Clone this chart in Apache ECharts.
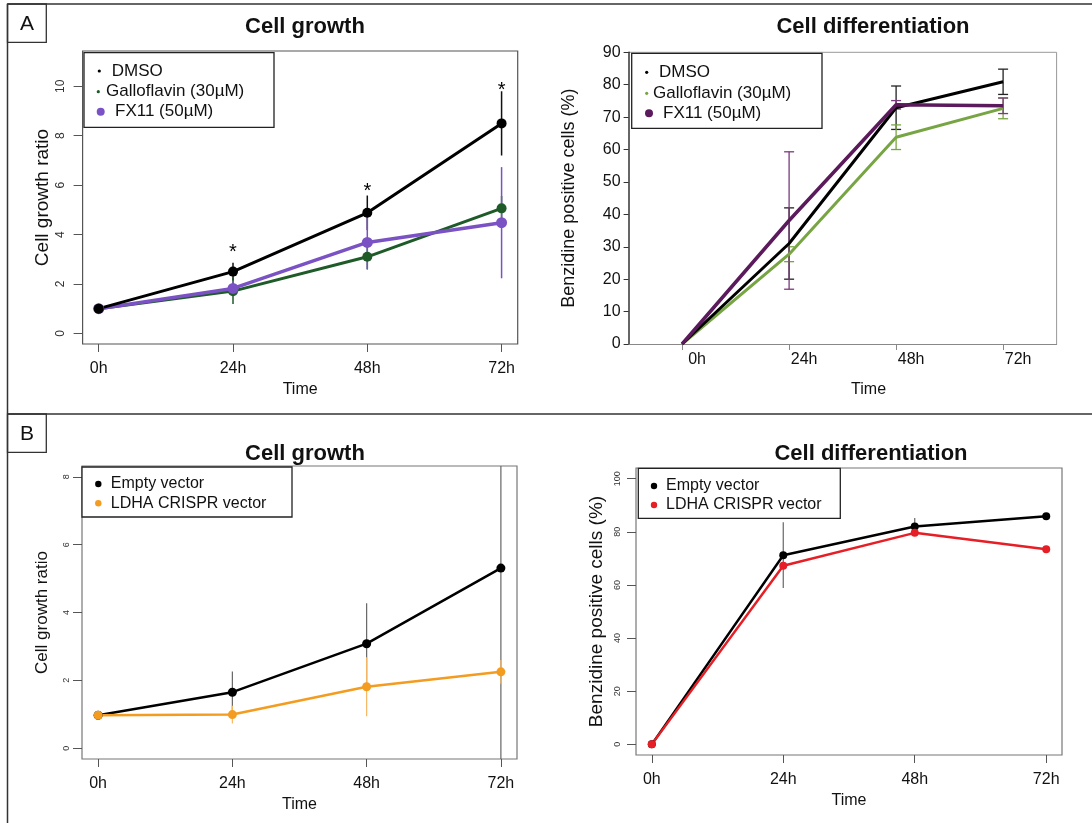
<!DOCTYPE html>
<html><head><meta charset="utf-8">
<script src="https://cdn.jsdelivr.net/npm/echarts@6/dist/echarts.min.js"></script>
<style>html,body{margin:0;padding:0;background:#fff}#c{width:1092px;height:823px}</style>
</head><body><div id="c"></div>
<script>
// ---------- data ----------
const timeHours = [0, 24, 48, 72];
const timeLabels = ['0h', '24h', '48h', '72h'];
const timeIndex = [0, 1, 2, 3];

// Panel A - Cell growth
const aNames = ['DMSO', 'Galloflavin (30µM)', 'FX11 (50µM)'];
const aGrowthDMSO = [1.0, 2.5, 4.88, 8.5];
const aGrowthDMSOErr = [0, 0.36, 0.7, 1.3];
const aGrowthGallo = [1.0, 1.71, 3.1, 5.06];
const aGrowthGalloErr = [0, 0.52, 0.5, 0.5];
const aGrowthFX11 = [1.0, 1.82, 3.68, 4.48];
const aGrowthFX11Err = [0, 0.3, 1.1, 2.25];
const aGrowthStars = [null, 3.45, 5.9, 10.0];
const aGrowthYTicks = [0, 2, 4, 6, 8, 10];

// Panel A - Cell differentiation
const aDiffDMSO = [0, 31, 72.9, 80.9];
const aDiffDMSOErr = [0, 11, 6.7, 3.9];
const aDiffGallo = [0, 27.7, 63.8, 72.7];
const aDiffGalloErr = [0, 2.3, 3.8, 3.2];
const aDiffFX11 = [0, 38.1, 73.8, 73.5];
const aDiffFX11Err = [0, 21.2, 1.3, 2.4];

// Panel B - Cell growth
const bNames = ['Empty vector', 'LDHA CRISPR vector'];
const bGrowthEmpty = [0.97, 1.65, 3.08, 5.31];
const bGrowthEmptyErr = [0, 0.61, 1.19, 5.8];
const bGrowthLDHA = [0.97, 0.99, 1.81, 2.25];
const bGrowthLDHAErr = [0, 0.26, 0.87, 0.35];
const bGrowthYTicks = [0, 2, 4, 6, 8];

// Panel B - Cell differentiation
const bDiffEmpty = [0, 71.2, 82.0, 85.8];
const bDiffEmptyErr = [0, 12.4, 3.2, 0];
const bDiffLDHA = [0, 67.2, 79.6, 73.4];
const bDiffYTicks = [0, 20, 40, 60, 80, 100];

// ---------- helpers ----------
const FONT = '"Liberation Sans", Arial, Helvetica, sans-serif';

function errorBars(xi, xs, vals, errs, color, width, cap, yMin, yMax) {
  const data = [];
  vals.forEach((v, i) => { if (errs[i] > 0) data.push([xs[i], v - errs[i], v + errs[i]]); });
  return {
    type: 'custom', xAxisIndex: xi, yAxisIndex: xi, z: 1, silent: true,
    data: data, encode: { x: 0, y: [1, 2] },
    renderItem: function (params, api) {
      let lo = api.value(1), hi = api.value(2);
      if (yMin != null) lo = Math.max(lo, yMin);
      if (yMax != null) hi = Math.min(hi, yMax);
      const x = api.value(0);
      const p1 = api.coord([x, lo]), p2 = api.coord([x, hi]);
      const ch = [{ type: 'line', shape: { x1: p1[0], y1: p1[1], x2: p2[0], y2: p2[1] }, style: { stroke: color, lineWidth: width } }];
      if (cap) {
        ch.push({ type: 'line', shape: { x1: p1[0] - cap, y1: p1[1], x2: p1[0] + cap, y2: p1[1] }, style: { stroke: color, lineWidth: width } });
        ch.push({ type: 'line', shape: { x1: p2[0] - cap, y1: p2[1], x2: p2[0] + cap, y2: p2[1] }, style: { stroke: color, lineWidth: width } });
      }
      return { type: 'group', children: ch };
    }
  };
}

function lineSeries(xi, name, xs, vals, color, width, symSize) {
  return {
    type: 'line', name: name, xAxisIndex: xi, yAxisIndex: xi, z: 3,
    data: vals.map((v, i) => [xs[i], v]),
    symbol: symSize ? 'circle' : 'none', symbolSize: symSize || 0, showSymbol: !!symSize,
    itemStyle: { color: color }, lineStyle: { color: color, width: width },
    animation: false
  };
}

function rXAxis(gi) {
  return {
    gridIndex: gi, type: 'value', min: -2.88, max: 74.88,
    axisLine: { show: false, onZero: false }, splitLine: { show: false },
    axisTick: { show: true, length: 8, customValues: timeHours, lineStyle: { color: '#555' } },
    axisLabel: { customValues: timeHours, formatter: v => timeLabels[timeHours.indexOf(v)], fontSize: 16, color: '#111', fontFamily: FONT, margin: 17 },
    name: 'Time', nameLocation: 'middle', nameGap: 38,
    nameTextStyle: { fontSize: 16, color: '#111', fontFamily: FONT }
  };
}

function rYAxis(gi, min, max, ticks, labelSize, margin, titleSize, nameGap) {
  return {
    gridIndex: gi, type: 'value', min: min, max: max,
    axisLine: { show: false, onZero: false }, splitLine: { show: false },
    axisTick: { show: true, length: 9, customValues: ticks, lineStyle: { color: '#555' } },
    axisLabel: { customValues: ticks, rotate: 90, fontSize: labelSize, color: '#333', fontFamily: FONT, margin: margin },
    name: null, nameLocation: 'middle', nameGap: nameGap, nameRotate: 90,
    nameTextStyle: { fontSize: titleSize, color: '#111', fontFamily: FONT }
  };
}

function legendBox(x, y, w, h, items, fontSize) {
  const els = [{ type: 'rect', shape: { x: x, y: y, width: w, height: h }, style: { fill: '#fff', stroke: '#222', lineWidth: 1.3 }, z: 50 }];
  items.forEach(it => {
    els.push({ type: 'circle', shape: { cx: it.dx, cy: it.y, r: it.r }, style: { fill: it.color }, z: 51 });
    els.push({ type: 'text', x: it.tx, y: it.y, style: { text: it.name, fill: '#111', font: fontSize + 'px ' + FONT, verticalAlign: 'middle', align: 'left' }, z: 51 });
  });
  return els;
}

// ---------- colors ----------
const cBlack = '#000000';
const cGreenDark = '#1e5b28';
const cPurple = '#7a52c4';
const cOlive = '#78a543';
const cPlum = '#5b1a5b';
const cOrange = '#f39c1f';
const cRed = '#e61e25';

// ---------- chart ----------
const chart = echarts.init(document.getElementById('c'), null, { renderer: 'canvas' });

const yA0 = rYAxis(0, -0.43, 11.43, aGrowthYTicks, 12, 16, 19, 30); yA0.name = 'Cell growth ratio';
const yB0 = rYAxis(2, -0.32, 8.32, bGrowthYTicks, 9, 11, 17, 31); yB0.name = 'Cell growth ratio';
const yB1 = rYAxis(3, -4, 104, bDiffYTicks, 9, 14, 19, 30); yB1.name = 'Benzidine positive cells (%)';

const xA1 = {
  gridIndex: 1, type: 'category', data: timeLabels, boundaryGap: true,
  axisLine: { show: true, onZero: false, lineStyle: { color: '#888', width: 1.2 } },
  axisTick: { show: true, alignWithLabel: true, length: 6, lineStyle: { color: '#888' } },
  axisLabel: { fontSize: 16, color: '#111', fontFamily: FONT, margin: 8, padding: [0, 0, 0, 30] },
  splitLine: { show: false },
  name: 'Time', nameLocation: 'middle', nameGap: 38,
  nameTextStyle: { fontSize: 16, color: '#111', fontFamily: FONT, padding: [0, 0, 0, 52] }
};
const yA1 = {
  gridIndex: 1, type: 'value', min: 0, max: 90, interval: 10,
  axisLine: { show: true, onZero: false, lineStyle: { color: '#333', width: 1.5 } },
  axisTick: { show: true, length: 5, lineStyle: { color: '#333' } },
  axisLabel: { fontSize: 16, color: '#111', fontFamily: FONT, margin: 8 },
  splitLine: { show: false },
  name: 'Benzidine positive cells (%)', nameLocation: 'middle', nameGap: 51, nameRotate: 90,
  nameTextStyle: { fontSize: 18, color: '#111', fontFamily: FONT }
};

const starSeries = {
  type: 'custom', xAxisIndex: 0, yAxisIndex: 0, z: 4, silent: true,
  data: timeHours.map((h, i) => [h, aGrowthStars[i]]).filter(d => d[1] != null),
  renderItem: function (params, api) {
    const p = api.coord([api.value(0), api.value(1)]);
    return { type: 'text', x: p[0], y: p[1] + 4, style: { text: '*', fill: '#000', font: '20px ' + FONT, align: 'center', verticalAlign: 'middle' } };
  }
};

const frame = [
  { type: 'line', shape: { x1: 7.5, y1: 4, x2: 1092, y2: 4 }, style: { stroke: '#333', lineWidth: 1.5 } },
  { type: 'line', shape: { x1: 7.5, y1: 4, x2: 7.5, y2: 823 }, style: { stroke: '#333', lineWidth: 1.5 } },
  { type: 'line', shape: { x1: 7.5, y1: 414, x2: 1092, y2: 414 }, style: { stroke: '#333', lineWidth: 1.5 } },
  { type: 'rect', shape: { x: 7.5, y: 4, width: 38.8, height: 38.3 }, style: { fill: 'none', stroke: '#333', lineWidth: 1.3 } },
  { type: 'rect', shape: { x: 7.5, y: 414, width: 38.8, height: 38.3 }, style: { fill: 'none', stroke: '#333', lineWidth: 1.3 } },
  { type: 'text', x: 27, y: 24, style: { text: 'A', fill: '#111', font: '21px ' + FONT, align: 'center', verticalAlign: 'middle' } },
  { type: 'text', x: 27, y: 434, style: { text: 'B', fill: '#111', font: '21px ' + FONT, align: 'center', verticalAlign: 'middle' } },
  // Excel-style chart border (top / right)
  { type: 'line', shape: { x1: 628.6, y1: 52.3, x2: 1056.6, y2: 52.3 }, style: { stroke: '#999', lineWidth: 1 } },
  { type: 'line', shape: { x1: 1056.6, y1: 52.3, x2: 1056.6, y2: 344 }, style: { stroke: '#999', lineWidth: 1 } }
];

const legends = [].concat(
  legendBox(84, 52.7, 190, 74.6, [
    { name: aNames[0], color: cBlack, r: 1.6, dx: 99.3, tx: 111.7, y: 71 },
    { name: aNames[1], color: cGreenDark, r: 1.6, dx: 98.3, tx: 106, y: 91.7 },
    { name: aNames[2], color: cPurple, r: 4, dx: 100.7, tx: 115, y: 111.7 }
  ], 17),
  legendBox(631.7, 53.3, 190.3, 75, [
    { name: aNames[0], color: cBlack, r: 1.6, dx: 646.7, tx: 659, y: 72.3 },
    { name: aNames[1], color: cOlive, r: 1.6, dx: 646.7, tx: 653, y: 93.3 },
    { name: aNames[2], color: cPlum, r: 4, dx: 649, tx: 663, y: 113.3 }
  ], 17),
  legendBox(82, 467, 210, 50, [
    { name: bNames[0], color: cBlack, r: 3.2, dx: 98.3, tx: 110.8, y: 484 },
    { name: bNames[1], color: cOrange, r: 3.2, dx: 98.3, tx: 110.8, y: 503.3 }
  ], 16),
  legendBox(638.3, 468.3, 202, 50, [
    { name: bNames[0], color: cBlack, r: 3.2, dx: 654, tx: 666, y: 486 },
    { name: bNames[1], color: cRed, r: 3.2, dx: 654, tx: 666, y: 505 }
  ], 16)
);

const titleStyle = { fontSize: 22, fontWeight: 'bold', color: '#111', fontFamily: FONT };

const option = {
  animation: false,
  backgroundColor: '#fff',
  title: [
    { text: 'Cell growth', left: 300, top: 11, textAlign: 'center', textStyle: titleStyle },
    { text: 'Cell differentiation', left: 868, top: 11, textAlign: 'center', textStyle: titleStyle },
    { text: 'Cell growth', left: 300, top: 438, textAlign: 'center', textStyle: titleStyle },
    { text: 'Cell differentiation', left: 866, top: 438, textAlign: 'center', textStyle: titleStyle }
  ],
  grid: [
    { left: 82.6, top: 51, width: 435.1, height: 293, show: true, borderColor: '#555', borderWidth: 1.2, backgroundColor: 'transparent' },
    { left: 628.6, top: 52.3, width: 428, height: 291.7, show: false },
    { left: 82, top: 466, width: 435, height: 293, show: true, borderColor: '#777', borderWidth: 1.2, backgroundColor: 'transparent' },
    { left: 636, top: 468, width: 426, height: 287, show: true, borderColor: '#777', borderWidth: 1.2, backgroundColor: 'transparent' }
  ],
  xAxis: [rXAxis(0), xA1, rXAxis(2), rXAxis(3)],
  yAxis: [yA0, yA1, yB0, yB1],
  graphic: { elements: frame.concat(legends) },
  series: [
    // A - growth
    errorBars(0, timeHours, aGrowthDMSO, aGrowthDMSOErr, '#111', 1.5, 0),
    errorBars(0, timeHours, aGrowthGallo, aGrowthGalloErr, cGreenDark, 1.5, 0),
    errorBars(0, timeHours, aGrowthFX11, aGrowthFX11Err, cPurple, 1.5, 0),
    lineSeries(0, aNames[1], timeHours, aGrowthGallo, cGreenDark, 3, 10),
    lineSeries(0, aNames[2], timeHours, aGrowthFX11, cPurple, 3.5, 11),
    lineSeries(0, aNames[0], timeHours, aGrowthDMSO, cBlack, 3, 10),
    starSeries,
    // A - differentiation
    errorBars(1, timeIndex, aDiffDMSO, aDiffDMSOErr, '#222', 1.3, 5),
    errorBars(1, timeIndex, aDiffGallo, aDiffGalloErr, cOlive, 1.3, 5),
    errorBars(1, timeIndex, aDiffFX11, aDiffFX11Err, '#7b3a7b', 1.3, 5),
    lineSeries(1, aNames[1], timeIndex, aDiffGallo, cOlive, 3, 0),
    lineSeries(1, aNames[0], timeIndex, aDiffDMSO, cBlack, 3, 0),
    lineSeries(1, aNames[2], timeIndex, aDiffFX11, cPlum, 3.5, 0),
    // B - growth
    errorBars(2, timeHours, bGrowthEmpty, bGrowthEmptyErr, '#666', 1.2, 0, -0.32, 8.32),
    errorBars(2, timeHours, bGrowthLDHA, bGrowthLDHAErr, '#f6b866', 1.2, 0, -0.32, 8.32),
    lineSeries(2, bNames[0], timeHours, bGrowthEmpty, cBlack, 2.5, 9),
    lineSeries(2, bNames[1], timeHours, bGrowthLDHA, cOrange, 2.5, 9),
    // B - differentiation
    errorBars(3, timeHours, bDiffEmpty, bDiffEmptyErr, '#666', 1.2, 0, -4, 104),
    lineSeries(3, bNames[0], timeHours, bDiffEmpty, cBlack, 2.5, 8),
    lineSeries(3, bNames[1], timeHours, bDiffLDHA, cRed, 2.5, 8)
  ]
};
chart.setOption(option);
</script>
</body></html>
